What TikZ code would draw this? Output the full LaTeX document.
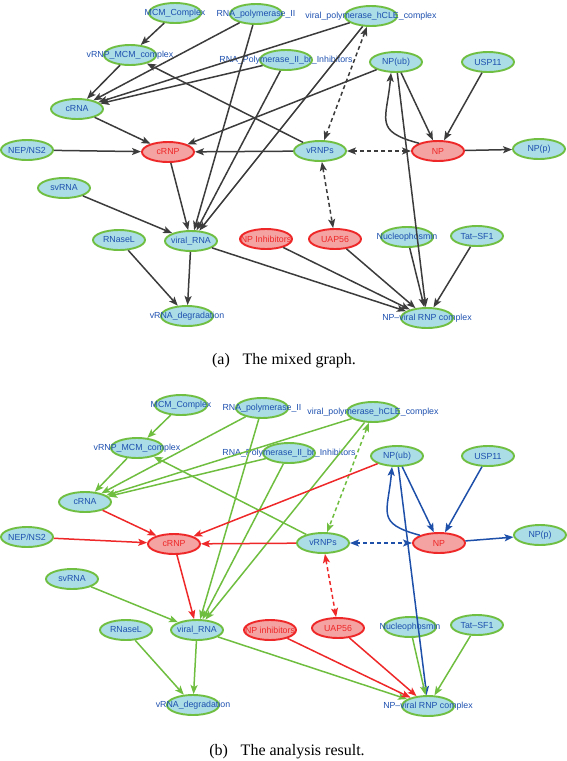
\documentclass[tikz,border=0pt]{standalone}
\usepackage{fontspec}
\setmainfont{Liberation Serif}
\setsansfont{Liberation Sans}
\usepackage{tikz}
\usetikzlibrary{shapes.geometric, arrows.meta}
\definecolor{nodefill}{RGB}{170,221,230}
\definecolor{nodegreen}{RGB}{112,190,66}
\definecolor{redfill}{RGB}{245,162,162}
\definecolor{redline}{RGB}{238,40,40}
\definecolor{labelblue}{RGB}{30,80,175}
\definecolor{edgegray}{RGB}{60,60,60}
\definecolor{edgegreen}{RGB}{112,190,64}
\definecolor{edgered}{RGB}{238,40,40}
\definecolor{edgeblue}{RGB}{30,80,170}
\newcommand{\ntext}[1]{\makebox[0pt]{#1}}

\begin{document}
\begin{tikzpicture}[x=1pt, y=1pt,
		gnode/.style={ellipse, draw=nodegreen, fill=nodefill, line width=1.9pt, minimum width=52pt, minimum height=20pt, inner sep=0pt, font=\sffamily\fontsize{8.8}{9}\selectfont, text=labelblue},
		rnode/.style={gnode, draw=redline, fill=redfill, text=redline},
		edge/.style={line width=1.5pt, draw=edgegray, -{Stealth[length=9pt,width=7pt,inset=2pt]}},
		biedge/.style={edge, {Stealth[length=9pt,width=7pt,inset=2pt]}-{Stealth[length=9pt,width=7pt,inset=2pt]}, dash pattern=on 4pt off 3pt},
		gedge/.style={edge, draw=edgegreen},
		redge/.style={edge, draw=edgered},
		bedge/.style={edge, draw=edgeblue},
		caption/.style={font=\rmfamily\fontsize{16}{18}\selectfont}]
		\useasboundingbox (0,0) rectangle (567,-761);
		
		% (a) the mixed graph
		\node[gnode] (aMCM) at (175,-13) {\ntext{MCM\_Complex}};
		\node[gnode] (aPol) at (256,-14) {\ntext{RNA\_polymerase\_II}};
		\node[gnode] (aHCLE) at (371,-16) {\ntext{viral\_polymerase\_hCLE\_complex}};
		\node[gnode] (aVMCM) at (130,-55) {\ntext{vRNP\_MCM\_complex}};
		\node[gnode] (aPolInh) at (286,-60) {\ntext{RNA\_Polymerase\_II\_br\_Inhibitors}};
		\node[gnode] (aNPub) at (396,-62) {\ntext{NP(ub)}};
		\node[gnode] (aUSP) at (488,-62) {\ntext{USP11}};
		\node[gnode] (aCRNA) at (77,-109) {\ntext{cRNA}};
		\node[gnode] (aNEP) at (27,-150) {\ntext{NEP/NS2}};
		\node[rnode] (aCRNP) at (168,-152) {\ntext{cRNP}};
		\node[gnode] (aVRNPs) at (320,-151) {\ntext{vRNPs}};
		\node[rnode] (aNP) at (438,-151) {\ntext{NP}};
		\node[gnode] (aNPp) at (539,-149) {\ntext{NP(p)}};
		\node[gnode] (aSV) at (64,-188) {\ntext{svRNA}};
		\node[gnode] (aRNaseL) at (119,-240) {\ntext{RNaseL}};
		\node[gnode] (aVRNA) at (191,-241) {\ntext{viral\_RNA}};
		\node[rnode] (aNPinh) at (266,-239) {\ntext{NP Inhibitors}};
		\node[rnode] (aUAP) at (335,-239) {\ntext{UAP56}};
		\node[gnode] (aNuc) at (407,-237) {\ntext{Nucleophosmin}};
		\node[gnode] (aTat) at (477,-236) {\ntext{Tat--SF1}};
		\node[gnode] (aDeg) at (187,-316) {\ntext{vRNA\_degradation}};
		\node[gnode] (aCplx) at (427,-318) {\ntext{NP--viral RNP complex}};
		
		\draw[edge] (aMCM) -- (aVMCM);
		\draw[edge] (aPol) -- (aCRNA);
		\draw[edge] (aPol) -- (aVRNA);
		\draw[edge] (aHCLE) -- (aCRNA);
		\draw[edge] (aHCLE) -- (aVRNA);
		\draw[biedge] (aHCLE) -- (aVRNPs);
		\draw[edge] (aVMCM) -- (aCRNA);
		\draw[edge] (aVRNPs) -- (aVMCM);
		\draw[edge] (aPolInh) -- (aCRNA);
		\draw[edge] (aPolInh) -- (aVRNA);
		\draw[edge] (aNPub) -- (aCRNP);
		\draw[edge] (aCRNA) -- (aCRNP);
		\draw[edge] (aNEP) -- (aCRNP);
		\draw[edge] (aVRNPs) -- (aCRNP);
		\draw[biedge] (aVRNPs) -- (aNP);
		\draw[edge] (aNP.north west) to[out=165, in=265, looseness=1.6] (aNPub.245);
		\draw[edge] (aNPub) -- (aNP);
		\draw[edge] (aUSP) -- (aNP);
		\draw[edge] (aNP) -- (aNPp);
		\draw[edge] (aNPub) -- (aCplx);
		\draw[biedge] (aVRNPs) -- (aUAP);
		\draw[edge] (aCRNP) -- (aVRNA);
		\draw[edge] (aSV) -- (aVRNA);
		\draw[edge] (aVRNA) -- (aDeg);
		\draw[edge] (aRNaseL) -- (aDeg);
		\draw[edge] (aVRNA) -- (aCplx);
		\draw[edge] (aNPinh) -- (aCplx);
		\draw[edge] (aUAP) -- (aCplx);
		\draw[edge] (aNuc) -- (aCplx);
		\draw[edge] (aTat) -- (aCplx);
		
		\node[caption] (capA) at (284,-361) {(a)\hspace{0.8em}The mixed graph.};
		
		% (b) the analysis result
		\node[gnode] (bMCM) at (181,-405) {\ntext{MCM\_Complex}};
		\node[gnode] (bPol) at (262,-408) {\ntext{RNA\_polymerase\_II}};
		\node[gnode] (bHCLE) at (373,-412) {\ntext{viral\_polymerase\_hCLE\_complex}};
		\node[gnode] (bVMCM) at (137,-448) {\ntext{vRNP\_MCM\_complex}};
		\node[gnode] (bPolInh) at (289,-453) {\ntext{RNA\_Polymerase\_II\_br\_Inhibitors}};
		\node[gnode] (bNPub) at (397,-456) {\ntext{NP(ub)}};
		\node[gnode] (bUSP) at (488,-456) {\ntext{USP11}};
		\node[gnode] (bCRNA) at (85,-502) {\ntext{cRNA}};
		\node[gnode] (bNEP) at (27,-537) {\ntext{NEP/NS2}};
		\node[rnode] (bCRNP) at (174,-544) {\ntext{cRNP}};
		\node[gnode] (bVRNPs) at (323,-543) {\ntext{vRNPs}};
		\node[rnode] (bNP) at (439,-543) {\ntext{NP}};
		\node[gnode] (bNPp) at (540,-535) {\ntext{NP(p)}};
		\node[gnode] (bSV) at (72,-579) {\ntext{svRNA}};
		\node[gnode] (bRNaseL) at (126,-630) {\ntext{RNaseL}};
		\node[gnode] (bVRNA) at (197,-630) {\ntext{viral\_RNA}};
		\node[rnode] (bNPinh) at (270,-630) {\ntext{NP inhibitors}};
		\node[rnode] (bUAP) at (338,-628) {\ntext{UAP56}};
		\node[gnode] (bNuc) at (410,-627) {\ntext{Nucleophosmin}};
		\node[gnode] (bTat) at (477,-625) {\ntext{Tat--SF1}};
		\node[gnode] (bDeg) at (193,-705) {\ntext{vRNA\_degradation}};
		\node[gnode] (bCplx) at (428,-706) {\ntext{NP--viral RNP complex}};
		
		\draw[gedge] (bMCM) -- (bVMCM);
		\draw[gedge] (bPol) -- (bCRNA);
		\draw[gedge] (bPol) -- (bVRNA);
		\draw[gedge] (bHCLE) -- (bCRNA);
		\draw[gedge] (bHCLE) -- (bVRNA);
		\draw[biedge, draw=edgegreen] (bHCLE) -- (bVRNPs);
		\draw[gedge] (bVMCM) -- (bCRNA);
		\draw[gedge] (bVRNPs) -- (bVMCM);
		\draw[gedge] (bPolInh) -- (bCRNA);
		\draw[gedge] (bPolInh) -- (bVRNA);
		\draw[redge] (bNPub) -- (bCRNP);
		\draw[redge] (bCRNA) -- (bCRNP);
		\draw[redge] (bNEP) -- (bCRNP);
		\draw[redge] (bVRNPs) -- (bCRNP);
		\draw[biedge, draw=edgeblue] (bVRNPs) -- (bNP);
		\draw[bedge] (bNP.north west) to[out=165, in=265, looseness=1.6] (bNPub.245);
		\draw[bedge] (bNPub) -- (bNP);
		\draw[bedge] (bUSP) -- (bNP);
		\draw[bedge] (bNP) -- (bNPp);
		\draw[bedge] (bNPub) -- (bCplx);
		\draw[biedge, draw=edgered] (bVRNPs) -- (bUAP);
		\draw[redge] (bCRNP) -- (bVRNA);
		\draw[gedge] (bSV) -- (bVRNA);
		\draw[gedge] (bVRNA) -- (bDeg);
		\draw[gedge] (bRNaseL) -- (bDeg);
		\draw[gedge] (bVRNA) -- (bCplx);
		\draw[redge] (bNPinh) -- (bCplx);
		\draw[redge] (bUAP) -- (bCplx);
		\draw[gedge] (bNuc) -- (bCplx);
		\draw[gedge] (bTat) -- (bCplx);
		
		\node[caption] (capB) at (287,-752) {(b)\hspace{0.8em}The analysis result.};
\end{tikzpicture}
\end{document}
